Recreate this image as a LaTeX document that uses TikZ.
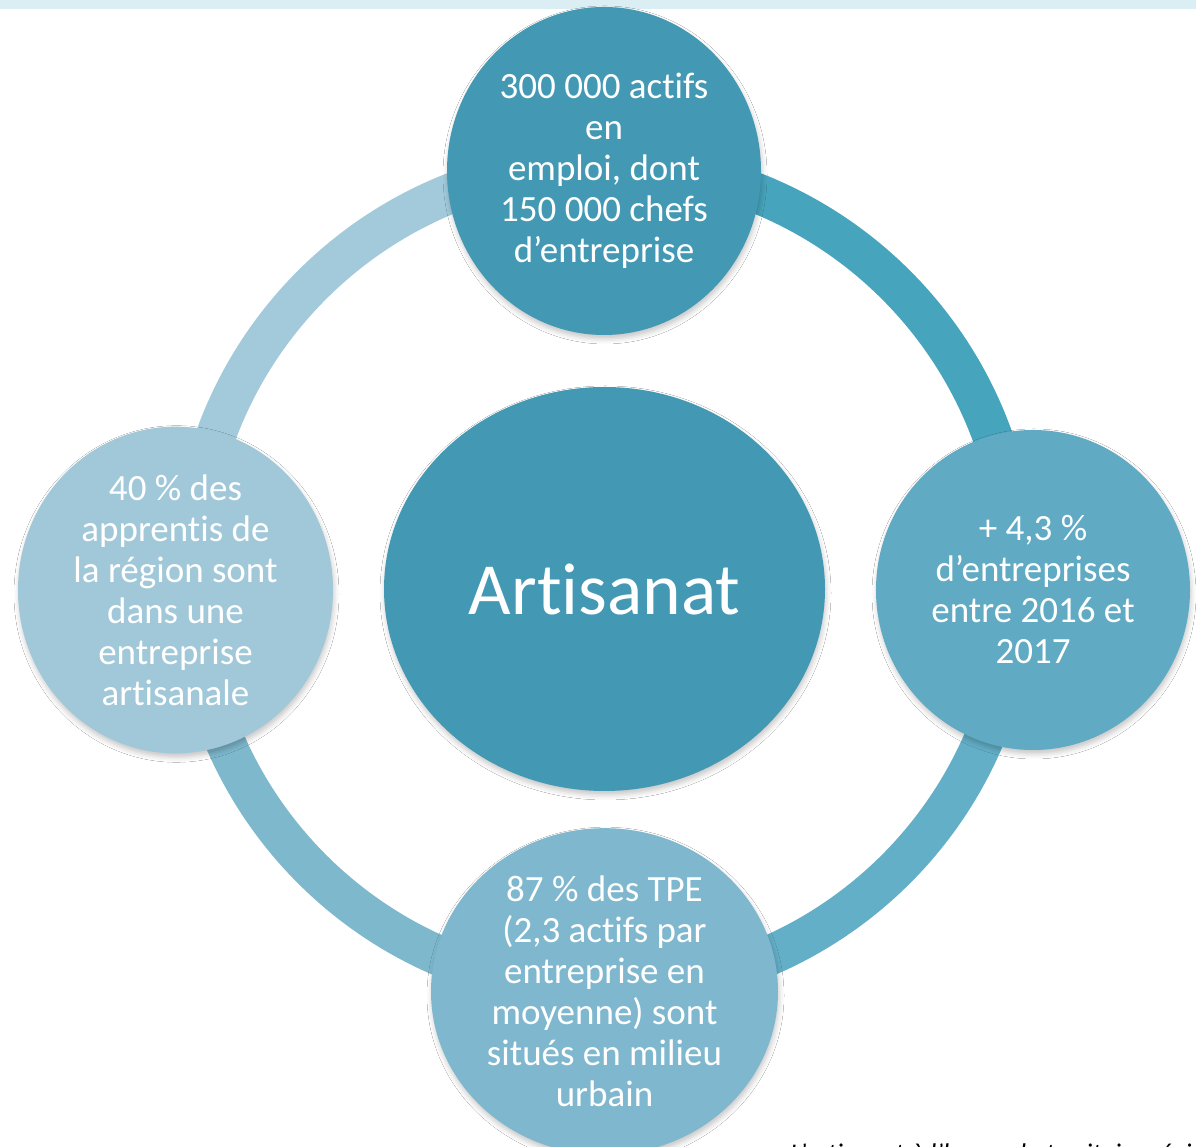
\documentclass[tikz,border=0pt]{standalone}
\usepackage{fontspec}
\setmainfont{Carlito}[Ligatures=NoCommon]
\usetikzlibrary{shapes.geometric,shadows.blur}
\definecolor{bandc}{HTML}{DAEEF3}
\definecolor{cTop}{HTML}{4399B3}
\definecolor{cRight}{HTML}{60AAC3}
\definecolor{cBottom}{HTML}{7FB8CE}
\definecolor{cLeft}{HTML}{A1C8D9}
\definecolor{rTR}{HTML}{47A4BD}
\definecolor{rBR}{HTML}{63AFC7}
\definecolor{rBL}{HTML}{7EB8CD}
\definecolor{rTL}{HTML}{A2CADB}
\tikzset{
  bubble/.style={ellipse, inner sep=0pt, text=white, align=center,
    font=\fontsize{37}{41}\selectfont,
    blur shadow={shadow xshift=1pt, shadow yshift=-4pt, shadow blur radius=5pt, shadow opacity=22}},
  ringarc/.style={line width=40pt, line cap=butt},
}
\begin{document}
\begin{tikzpicture}[x=1pt,y=1pt]
\clip (0,0) rectangle (1196,1147);
\fill[white] (0,0) rectangle (1196,1147);
\fill[bandc] (0,1138) rectangle (1196,1147);
% ring
\coordinate (rc) at (604,570);
\draw[ringarc, rTR] (rc) ++(90:413) arc[start angle=90, end angle=0, radius=413];
\draw[ringarc, rBR] (rc) ++(0:413) arc[start angle=0, end angle=-90, radius=413];
\draw[ringarc, rBL] (rc) ++(-90:413) arc[start angle=-90, end angle=-180, radius=413];
\draw[ringarc, rTL] (rc) ++(180:413) arc[start angle=180, end angle=90, radius=413];
% circles
\node[bubble, fill=cTop, minimum width=314pt, minimum height=328pt] (top) at (604,976)
  {300 000 actifs\\en\\emploi, dont\\150 000 chefs\\d’entreprise};
\node[bubble, fill=cRight, minimum width=314pt, minimum height=320pt] (right) at (1033,557)
  {+ 4,3 \%\\d’entreprises\\entre 2016 et\\2017};
\node[bubble, fill=cLeft, minimum width=315pt, minimum height=320pt] (left) at (175.5,557)
  {40 \% des\\apprentis de\\la région sont\\dans une\\entreprise\\artisanale};
\node[bubble, fill=cBottom, minimum width=347pt, minimum height=307pt] (bottom) at (604.5,155.5)
  {87 \% des TPE\\(2,3 actifs par\\entreprise en\\moyenne) sont\\situés en milieu\\urbain};
\node[bubble, fill=cTop, minimum width=441pt, minimum height=404pt,
  font=\fontsize{73.5}{80}\selectfont] (center) at (604.5,558) {Artisanat};
% cut-off caption
\node[anchor=base west, inner sep=0pt, font=\fontsize{27}{30}\selectfont\itshape] (caption) at (790,-16)
  {L’artisanat à l’heure du territoire régional};
\end{tikzpicture}
\end{document}
